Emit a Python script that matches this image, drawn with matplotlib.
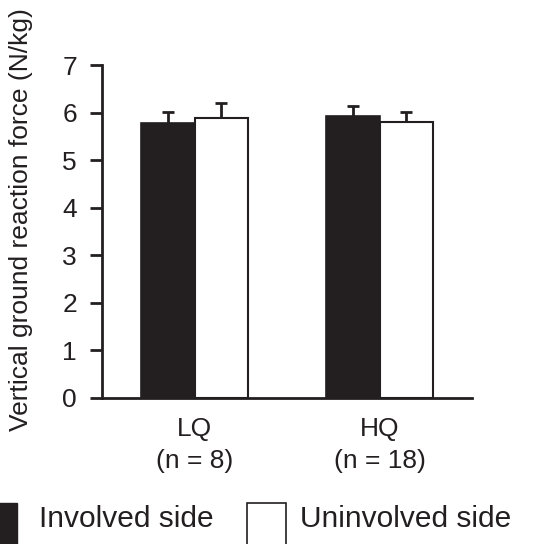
import matplotlib
matplotlib.use("Agg")
import matplotlib.pyplot as plt
from matplotlib.patches import Rectangle
import numpy as np

plt.rcParams['font.family'] = ['Liberation Sans', 'DejaVu Sans']

groups = ['LQ\n(n = 8)', 'HQ\n(n = 18)']
involved = [5.77, 5.93]
involved_err = [0.25, 0.21]
uninvolved = [5.88, 5.79]
uninvolved_err = [0.31, 0.22]

ink = '#231f20'
fs = 19

fig = plt.figure(figsize=(5.47, 5.44), dpi=100)
ax = fig.add_axes([0.1865, 0.2693, 0.863 - 0.1865, 0.8805 - 0.2693])

x = np.arange(len(groups))
w = 0.287
err_kw = dict(ecolor=ink, elinewidth=2, capthick=2)
b1 = ax.bar(x - w / 2, involved, w, color=ink, edgecolor=ink, linewidth=1.2,
            yerr=[np.zeros(2), involved_err], capsize=4.5, error_kw=err_kw)
b2 = ax.bar(x + w / 2, uninvolved, w, color='white', edgecolor=ink,
            linewidth=1.5, yerr=[np.zeros(2), uninvolved_err], capsize=4.5,
            error_kw=err_kw)
# only the upper cap
for b in (b1, b2):
    caps = b.errorbar.lines[1]
    caps[0].set_visible(False)

ax.set_xlim(-0.5, 1.5)
ax.set_ylim(0, 7)
ax.set_yticks(range(8))
ax.set_xticks(x)
ax.set_xticklabels(groups, fontsize=fs, color=ink, linespacing=1.43)
ax.tick_params(axis='x', length=0, pad=14)
ax.tick_params(axis='y', length=9, width=2, color=ink, labelsize=fs,
               labelcolor=ink, pad=9)
for s in ['top', 'right']:
    ax.spines[s].set_visible(False)
for s in ['left', 'bottom']:
    ax.spines[s].set_linewidth(2)
    ax.spines[s].set_color(ink)
ax.set_ylabel('Vertical ground reaction force (N/kg)', fontsize=fs, color=ink)
ax.yaxis.set_label_coords(-0.186, 0.534)

# legend at the bottom
fig.patches.append(Rectangle((-23 / 547, -5 / 544), 40 / 547, 46 / 544,
                             transform=fig.transFigure, facecolor=ink,
                             edgecolor=ink, figure=fig))
fig.patches.append(Rectangle((247 / 547, -5 / 544), 39 / 547, 46 / 544,
                             transform=fig.transFigure, facecolor='white',
                             edgecolor=ink, linewidth=1.2, figure=fig))
fig.text(39 / 547, 1 - 519 / 544, 'Involved side', fontsize=21.5, color=ink,
         va='center', ha='left')
fig.text(300 / 547, 1 - 519 / 544, 'Uninvolved side', fontsize=21.5,
         color=ink, va='center', ha='left')

fig.savefig('out.png', dpi=100)
